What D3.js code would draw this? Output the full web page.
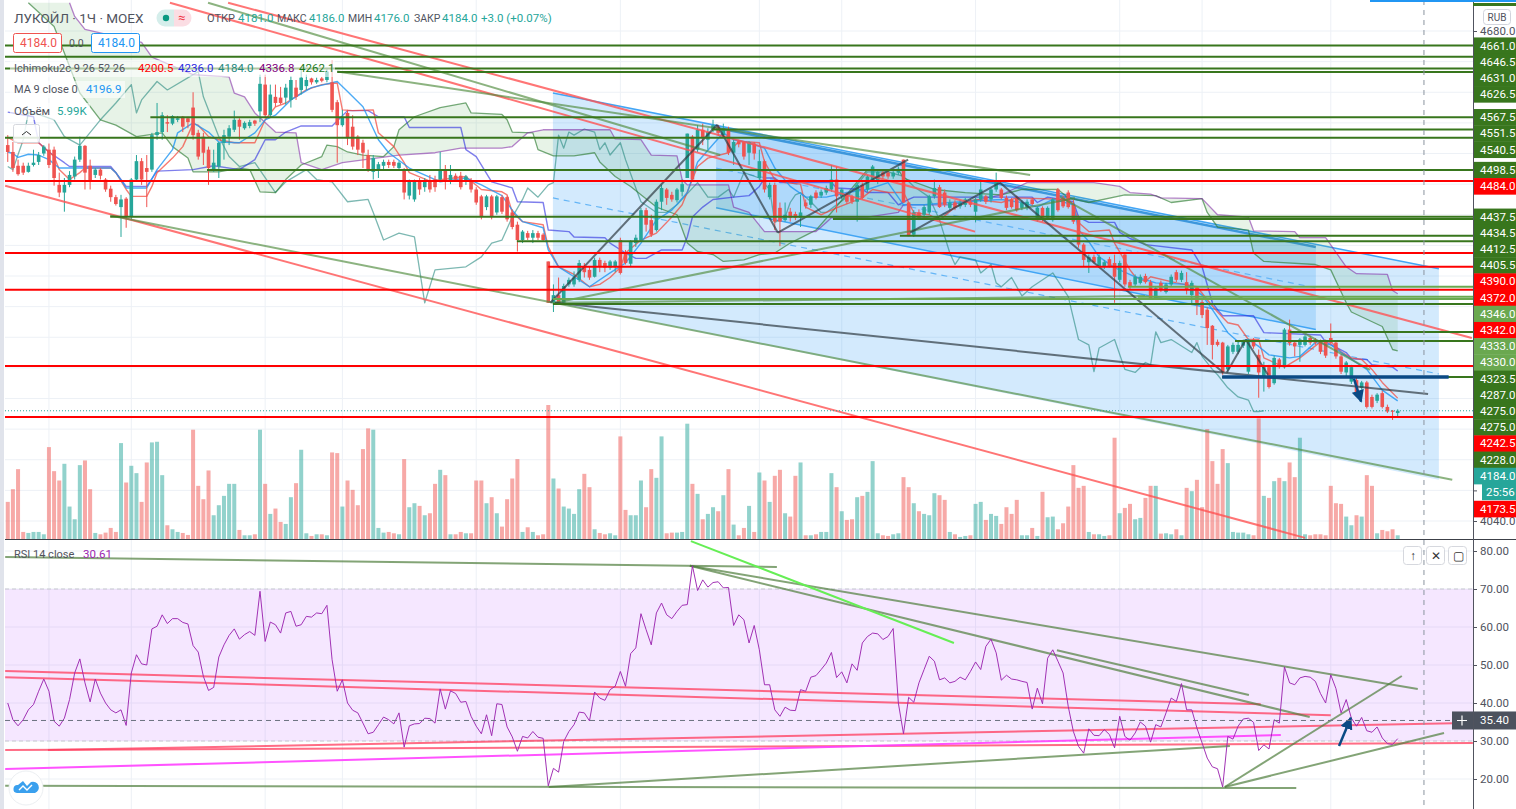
<!DOCTYPE html>
<html>
<head>
<meta charset="utf-8">
<script src="https://cdn.jsdelivr.net/npm/d3@7"></script>
<style>
html, body { margin: 0; padding: 0; background: #fff; overflow: hidden; }
text { font-family: "Roboto", "Liberation Sans", sans-serif; }
</style>
</head>
<body>
<div id="chart"></div>
<script>
// candles, hourly bars
var open = [4531,4522,4504,4504,4496,4505,4509,4520,4525,4525,
4479,4469,4479,4490,4512,4530,4504,4492,4499,4486,
4474,4463,4450,4461,4437,4486,4510,4501,4499,4544,
4548,4561,4559,4564,4568,4566,4580,4547,4542,4525,
4499,4503,4534,4542,4551,4564,4553,4556,4563,4575,
4610,4570,4594,4593,4593,4590,4606,4603,4608,4618,
4613,4618,4616,4613,4587,4557,4573,4555,4542,4534,
4518,4496,4499,4504,4509,4509,4501,4499,4465,4460,
4484,4476,4484,4486,4486,4499,4483,4491,4491,4483,
4483,4473,4464,4450,4464,4443,4463,4463,4443,4427,
4407,4416,4410,4416,4414,4379,4325,4335,4325,4349,
4349,4355,4373,4368,4359,4381,4377,4371,4372,4407,
4390,4376,4403,4407,4446,4433,4420,4457,4473,4466,
4459,4470,4488,4542,4525,4551,4538,4551,4555,4544,
4552,4521,4536,4535,4521,4533,4488,4510,4463,4479,
4449,4433,4444,4441,4436,4456,4453,4469,4465,4469,
4473,4486,4464,4466,4464,4457,4479,4473,4486,4483,
4495,4495,4490,4495,4512,4456,4414,4443,4440,4443,
4464,4476,4469,4449,4456,4451,4453,4457,4444,4460,
4464,4460,4473,4473,4462,4460,4462,4449,4449,4460,
4433,4449,4436,4433,4473,4462,4469,4453,4436,4401,
4378,4385,4373,4372,4382,4377,4355,4388,4352,4349,
4351,4360,4352,4331,4351,4339,4349,4365,4355,4352,
4335,4345,4326,4316,4295,4274,4273,4238,4261,4261,
4269,4235,4277,4257,4228,4241,4220,4251,4241,4290,
4273,4270,4270,4279,4277,4274,4274,4279,4273,4255,
4234,4222,4224,4214,4221,4202,4197,4207,4189,4184,4181];
var close = [4522,4501,4493,4495,4504,4508,4518,4529,4505,4488,
4469,4479,4492,4512,4530,4495,4483,4499,4491,4473,
4463,4454,4460,4437,4486,4510,4486,4496,4544,4548,
4570,4559,4569,4566,4555,4561,4544,4516,4521,4501,
4508,4534,4544,4553,4564,4555,4560,4561,4559,4611,
4570,4597,4586,4586,4606,4616,4594,4619,4616,4613,
4616,4615,4627,4577,4557,4568,4540,4529,4525,4521,
4499,4514,4506,4509,4505,4504,4508,4469,4483,4484,
4473,4484,4473,4476,4499,4483,4492,4486,4476,4490,
4473,4456,4437,4464,4437,4464,4444,4434,4424,4407,
4418,4410,4416,4410,4407,4325,4335,4325,4347,4355,
4358,4377,4365,4358,4381,4372,4371,4379,4379,4364,
4377,4405,4410,4446,4427,4414,4457,4475,4462,4460,
4473,4480,4546,4486,4551,4540,4548,4557,4547,4553,
4521,4535,4532,4516,4535,4520,4510,4473,4479,4431,
4431,4440,4436,4436,4443,4451,4464,4462,4470,4475,
4486,4464,4473,4457,4457,4479,4462,4490,4503,4496,
4490,4490,4495,4500,4456,4412,4443,4436,4450,4464,
4475,4450,4453,4456,4449,4456,4460,4453,4460,4473,
4457,4473,4483,4462,4449,4450,4446,4456,4457,4454,
4449,4433,4449,4460,4446,4451,4450,4431,4401,4381,
4385,4378,4385,4378,4373,4359,4377,4349,4346,4359,
4359,4352,4331,4344,4342,4349,4359,4355,4364,4342,
4351,4325,4309,4292,4270,4270,4234,4268,4270,4270,
4274,4277,4268,4234,4241,4215,4253,4241,4290,4272,
4268,4277,4281,4273,4273,4261,4256,4273,4255,4235,
4247,4241,4207,4221,4189,4189,4205,4189,4183,4183,4184];
var high = [4544,4535,4512,4508,4508,4525,4522,4531,4533,4529,
4495,4488,4497,4516,4542,4531,4512,4501,4501,4488,
4478,4466,4466,4463,4488,4518,4514,4518,4547,4586,
4574,4570,4570,4569,4569,4568,4600,4551,4547,4529,
4525,4535,4551,4557,4576,4566,4562,4564,4564,4623,
4623,4610,4610,4607,4611,4621,4616,4629,4623,4619,
4619,4620,4632,4642,4590,4577,4577,4570,4544,4538,
4525,4518,4509,4512,4512,4512,4510,4501,4486,4486,
4488,4488,4492,4491,4522,4505,4505,4494,4496,4492,
4488,4476,4466,4466,4466,4466,4466,4465,4447,4431,
4420,4419,4420,4419,4416,4379,4349,4358,4350,4358,
4366,4381,4377,4373,4384,4384,4380,4381,4381,4410,
4394,4407,4414,4449,4449,4440,4460,4479,4475,4470,
4475,4486,4546,4544,4557,4559,4553,4564,4557,4559,
4555,4538,4538,4536,4536,4535,4525,4512,4482,4482,
4456,4456,4449,4444,4466,4460,4466,4472,4473,4478,
4505,4503,4475,4469,4466,4482,4482,4492,4505,4499,
4497,4497,4497,4503,4512,4456,4446,4447,4453,4466,
4486,4479,4473,4460,4459,4459,4462,4460,4462,4483,
4466,4475,4495,4475,4465,4462,4465,4459,4460,4462,
4451,4451,4451,4462,4475,4465,4472,4460,4439,4403,
4388,4388,4388,4381,4385,4388,4380,4390,4355,4362,
4362,4363,4355,4347,4354,4351,4362,4368,4367,4365,
4354,4347,4329,4319,4296,4277,4274,4270,4273,4274,
4277,4278,4279,4264,4248,4244,4256,4253,4292,4303,
4275,4279,4283,4282,4279,4277,4277,4298,4275,4257,
4249,4244,4227,4223,4223,4205,4207,4210,4192,4185,4186];
var low = [4509,4496,4491,4492,4495,4503,4505,4517,4501,4478,
4463,4444,4476,4486,4509,4473,4473,4488,4486,4470,
4457,4452,4411,4423,4433,4483,4479,4450,4496,4538,
4538,4548,4557,4561,4548,4553,4538,4512,4505,4479,
4496,4488,4512,4531,4548,4538,4551,4553,4556,4561,
4566,4567,4581,4584,4584,4580,4590,4597,4603,4610,
4611,4613,4613,4574,4508,4555,4531,4525,4518,4501,
4496,4486,4488,4499,4501,4501,4499,4460,4460,4457,
4466,4470,4469,4470,4483,4473,4480,4483,4473,4479,
4469,4453,4434,4446,4434,4440,4441,4431,4421,4392,
4403,4407,4403,4407,4406,4325,4313,4325,4324,4346,
4346,4352,4358,4355,4358,4365,4365,4368,4365,4362,
4375,4372,4398,4405,4418,4411,4418,4446,4453,4457,
4456,4464,4488,4483,4522,4531,4525,4548,4543,4542,
4518,4505,4528,4512,4505,4512,4483,4469,4460,4420,
4399,4431,4431,4433,4424,4448,4449,4460,4462,4466,
4470,4443,4460,4454,4454,4431,4460,4470,4483,4480,
4487,4487,4487,4492,4456,4412,4411,4433,4436,4440,
4461,4449,4450,4446,4446,4448,4450,4450,4430,4457,
4454,4456,4470,4460,4446,4448,4444,4446,4446,4452,
4431,4431,4433,4431,4444,4449,4448,4428,4397,4372,
4364,4376,4371,4369,4371,4325,4352,4346,4343,4346,
4349,4350,4329,4329,4339,4337,4346,4352,4352,4336,
4322,4309,4305,4270,4251,4268,4231,4235,4258,4258,
4266,4232,4265,4201,4209,4213,4218,4239,4239,4269,
4255,4248,4268,4270,4270,4258,4253,4270,4252,4232,
4227,4219,4205,4211,4187,4187,4194,4187,4181,4172,4176];
var volume = [56,75,105,11,9.5,11,11,7.5,138,102,88,113,49,30,111,118,75,9.5,7.5,10,17,11,144,85,110,99,56,115,145,146,96,21,15,11,9.5,6.5,164,80,60,103,36,51,65,83,83,14,6,
6,7.5,164,83,38,46,26,23,63,84,134,9,5,7.5,7.5,6,130,129,49,88,74,51,135,166,164,17,10,11,9,7.5,120,48,54,50,36,39,83,104,96,7.5,7.5,11,9,9,88,88,54,63,39,19,60,91,120,11,18,11,6,7.5,201,91,76,49,46,38,75,98,78,15,9.5,7.5,9,6,154,44,36,36,88,48,105,92,154,9,10,
10,11,173,83,68,30,38,48,42,66,105,22,6,17,50,11,100,88,56,95,104,39,34,95,115,6,6,7.5,11,11,99,78,42,29,30,63,65,71,117,9,6,5,7.5,9,93,78,54,42,38,36,69,66,59,11,7.5,3.5,5,6,53,56,29,38,35,23,48,38,59,6,6,
17,5,71,33,34,15,24,49,111,77,80,11,7.5,7.5,5,6,152,39,47,53,30,32,62,80,80,8.5,9,7.5,15,6,77,72,89,48,165,117,83,135,114,11,10,10,7.5,6,181,65,62,87,92,87,115,93,152,7.5,6,7.5,7.5,6,80,54,53,34,21,36,34,96,80,9,14,12,15,5.99];
var rsi = [40.0,35.6,34.0,35.6,38.2,39.6,43.1,46.3,43.1,35.2,
33.9,36.0,40.9,47.9,51.6,45.3,40.3,46.3,42.6,40.0,
38.2,37.4,38.2,34.1,47.9,52.7,50.3,50.0,59.5,60.2,
63.2,60.9,62.2,62.2,61.2,60.8,55.1,53.4,47.0,43.3,
44.1,52.1,55.3,57.8,59.5,56.8,58.0,58.8,57.8,
69.4,56.2,61.3,60.6,58.4,63.7,64.1,60.2,60.6,62.8,
62.6,63.7,63.5,65.7,51.4,43.1,46.1,40.0,38.1,37.4,
34.7,31.9,32.3,34.3,36.3,35.6,34.5,37.4,28.4,34.0,
34.5,34.6,36.0,35.9,34.7,43.7,38.4,43.2,42.5,40.2,
40.4,36.5,33.9,31.9,36.9,31.4,39.8,39.6,33.7,31.1,
27.3,31.2,30.8,32.5,31.0,30.7,18.2,22.8,21.8,29.9,
32.5,34.3,37.6,37.4,35.3,42.9,41.3,40.7,43.5,44.4,
48.3,44.4,53.0,54.5,63.5,59.3,55.3,63.7,66.3,63.2,
62.2,64.1,65.7,65.9,76.1,69.6,72.4,70.5,71.7,71.9,
70.3,70.4,60.4,63.2,61.9,55.8,60.4,54.0,
44.8,44.8,38.2,36.5,38.9,38.1,38.0,43.5,43.1,46.8,47.2,48.8,50.5,53.3,46.7,48.2,45.3,50.3,48.6,55.8,57.5,58.4,58.2,56.7,57.5,59.6,40.0,31.9,41.5,40.2,45.3,48.8,52.3,51.0,46.1,46.6,45.3,45.7,46.8,46.1,48.3,50.8,48.8,54.9,56.8,53.2,46.0,47.3,46.3,46.1,45.7,45.4,38.4,43.9,39.8,51.8,54.0,51.0,47.9,39.1,32.5,28.6,26.8,33.2,31.5,31.4,33.0,31.7,28.2,36.5,31.2,30.2,32.1,35.0,33.9,29.7,34.3,33.7,37.4,41.3,40.4,45.1,38.2,38.2,33.4,29.5,25.5,23.2,22.7,17.9,31.2,30.5,33.9,35.8,36.0,34.9,27.5,29.0,27.9,35.6,34.7,49.5,45.3,44.8,46.6,47.0,46.8,45.7,42.5,40.0,47.4,43.8,37.4,40.9,36.0,33.9,36.2,32.7,32.3,33.7,30.8,29.3,29.1,30.61];

// indicator lines as [bar, value]
var kijun = [[0,4574],[5,4568],[6,4534],[8,4522],[11,4508],[12,4503],[20,4503],[21,4495],[23,4477],[27,4477],[29,4497],[36,4499],[40,4504],[45,4499],[48,4512],[50,4538],[52,4538],[54,4548],[57,4556],[63,4556],[66,4576],[70,4576],[72,4568],[77,4568],[78,4554],[88,4554],[89,4525],[91,4516],[94,4483],[96,4479],[98,4475],[99,4457],[104,4456],[105,4420],[109,4418],[110,4411],[116,4410],[117,4403],[120,4390],[122,4383],[124,4383],[127,4394],[131,4394],[132,4411],[133,4437],[135,4450],[137,4460],[141,4463],[144,4465],[146,4477],[147,4488],[149,4488],[150,4482],[160,4482],[161,4475],[166,4473],[167,4469],[171,4469],[173,4453],[175,4460],[176,4463],[199,4463],[200,4456],[202,4463],[207,4457],[208,4437],[210,4430],[215,4430],[216,4417],[218,4409],[221,4401],[230,4394],[232,4372],[234,4325],[235,4316],[236,4308],[242,4308],[244,4286],[255,4283],[256,4274],[260,4260],[261,4252],[264,4251],[265,4244],[269,4241],[270,4236]];
var tenkan = [[0,4541],[2,4534],[6,4534],[7,4528],[9,4516],[10,4499],[12,4486],[14,4495],[15,4501],[20,4501],[21,4495],[23,4473],[24,4464],[27,4464],[28,4477],[29,4495],[32,4514],[34,4529],[36,4559],[37,4557],[39,4542],[41,4538],[44,4534],[48,4534],[50,4564],[52,4581],[54,4586],[58,4603],[61,4610],[64,4612],[65,4577],[67,4576],[71,4577],[72,4547],[75,4529],[77,4508],[78,4495],[82,4484],[89,4490],[90,4484],[92,4473],[96,4470],[97,4466],[98,4443],[100,4431],[104,4427],[105,4398],[107,4372],[110,4362],[113,4346],[115,4349],[117,4358],[119,4371],[120,4390],[123,4407],[126,4416],[129,4437],[131,4453],[134,4503],[136,4514],[140,4521],[142,4536],[146,4534],[147,4509],[149,4486],[151,4482],[154,4480],[155,4450],[158,4440],[161,4449],[166,4462],[168,4473],[171,4469],[174,4469],[176,4443],[179,4440],[181,4433],[184,4450],[188,4460],[193,4456],[196,4462],[206,4460],[207,4453],[208,4430],[210,4418],[214,4420],[215,4403],[218,4368],[219,4359],[221,4353],[222,4359],[227,4351],[231,4346],[233,4329],[235,4313],[237,4299],[239,4296],[241,4277],[243,4277],[244,4253],[248,4241],[251,4253],[255,4274],[257,4274],[259,4261],[261,4253],[263,4251],[265,4238],[267,4221],[270,4200.5]];
var ma9 = [[0,4522],[1,4520],[2,4515],[4,4519],[6,4518],[8,4512],[10,4501],[20,4501],[21,4495],[23,4475],[27,4475],[29,4499],[32,4525],[33,4547],[36,4560],[39,4548],[41,4535],[45,4534],[48,4547],[50,4564],[52,4570],[55,4590],[59,4606],[64,4614],[66,4601],[69,4581],[72,4538],[74,4521],[78,4501],[84,4483],[89,4488],[92,4479],[96,4465],[98,4446],[100,4431],[104,4423],[105,4394],[107,4372],[110,4359],[113,4346],[117,4364],[120,4377],[123,4403],[126,4433],[129,4446],[132,4469],[134,4509],[139,4547],[141,4538],[144,4534],[147,4527],[149,4501],[152,4477],[155,4463],[159,4463],[163,4469],[167,4473],[171,4482],[174,4453],[178,4453],[183,4456],[193,4460],[197,4456],[200,4450],[203,4460],[207,4453],[208,4420],[210,4405],[212,4385],[215,4371],[219,4359],[223,4351],[229,4349],[232,4335],[234,4316],[237,4286],[239,4274],[241,4277],[243,4268],[245,4257],[249,4253],[251,4255],[254,4273],[257,4270],[261,4251],[264,4238],[267,4211],[270,4196.9]];
var lagging = [[0,4503],[1,4499],[3,4538],[4,4573],[6,4571],[9,4564],[11,4542],[14,4531],[18,4564],[21,4586],[24,4610],[25,4573],[26,4590],[29,4614],[31,4603],[37,4627],[38,4594],[41,4542],[43,4516],[45,4503],[48,4508],[52,4469],[54,4483],[58,4499],[60,4486],[63,4483],[66,4457],[70,4460],[71,4443],[73,4407],[76,4416],[79,4411],[80,4368],[81,4325],[83,4368],[89,4372],[92,4385],[94,4403],[96,4407],[98,4437],[100,4460],[101,4475],[103,4463],[105,4479],[106,4482],[107,4544],[108,4527],[109,4548],[110,4544],[112,4552],[114,4548],[115,4525],[116,4534],[117,4518],[119,4534],[120,4512],[122,4475],[123,4457],[126,4443],[128,4443],[130,4453],[134,4482],[136,4463],[138,4463],[140,4473],[141,4463],[143,4495],[146,4488],[148,4473],[149,4430],[151,4437],[152,4456],[153,4466],[154,4469],[156,4457],[158,4443],[159,4443],[163,4463],[167,4496],[171,4496],[174,4490],[176,4477],[179,4463],[181,4433],[183,4390],[184,4375],[185,4385],[188,4381],[189,4364],[191,4375],[192,4351],[193,4346],[195,4358],[197,4334],[199,4346],[203,4364],[206,4333],[208,4277],[210,4270],[211,4235],[212,4266],[215,4277],[217,4238],[219,4234],[221,4247],[222,4244],[223,4287],[224,4273],[226,4277],[230,4260],[231,4273],[232,4255],[234,4238],[235,4231],[237,4214],[239,4202],[241,4198],[242,4183],[243,4183],[244,4184]];
var spanA = [[4,4717],[9,4686],[14,4599],[18,4564],[21,4557],[25,4542],[30,4547],[32,4529],[35,4514],[36,4496],[41,4496],[45,4501],[47,4499],[49,4470],[52,4469],[54,4486],[57,4505],[61,4516],[62,4531],[64,4529],[66,4522],[69,4518],[73,4516],[75,4529],[76,4551],[79,4568],[84,4580],[89,4586],[90,4573],[96,4571],[97,4564],[98,4548],[102,4547],[103,4525],[106,4517],[110,4517],[114,4521],[115,4509],[118,4490],[121,4477],[123,4466],[126,4450],[130,4440],[132,4403],[134,4392],[137,4388],[139,4379],[143,4381],[146,4388],[149,4390],[152,4403],[157,4420],[160,4443],[167,4499],[173,4499],[174,4488],[180,4473],[186,4469],[193,4466],[197,4473],[204,4473],[206,4462],[210,4456],[217,4466],[223,4465],[226,4456],[232,4461],[233,4443],[235,4424],[241,4420],[242,4390],[244,4379],[254,4375],[257,4368],[260,4325],[261,4313],[267,4294],[269,4264],[270,4262.1]];
var spanB = [[12,4717],[13,4699],[15,4682],[26,4665],[28,4646],[36,4623],[43,4620],[44,4599],[46,4594],[48,4573],[52,4548],[56,4547],[57,4508],[61,4499],[65,4508],[76,4518],[83,4521],[88,4527],[96,4527],[98,4529],[101,4547],[104,4551],[117,4551],[118,4539],[123,4538],[125,4518],[130,4517],[131,4486],[132,4479],[140,4479],[141,4450],[144,4443],[147,4418],[157,4418],[159,4430],[160,4436],[167,4437],[173,4443],[174,4453],[183,4453],[189,4460],[193,4466],[198,4482],[211,4482],[216,4477],[218,4469],[222,4467],[224,4462],[232,4461],[235,4440],[241,4437],[242,4419],[250,4418],[251,4410],[256,4410],[260,4372],[262,4363],[268,4362],[269,4341],[270,4336.8]];

// drawn levels on the price pane: price, first bar
var greenLevels = [[4661,-2],[4646.5,-2],[4631,-2],[4626.5,64],[4567.5,27.7],[4551.5,136.8],[4540.5,-2],[4498.5,38.7],[4437.5,19.9],[4434.5,160.3],[4412.5,173.3],[4405.5,98.9],[4323.5,105.9],[4287,249],[4275,238.4],[4228,235.9]];
var lightLevels = [[4346,217.6],[4333,219.5],[4330,105.9]];
var redLevels = [[4484,-2],[4390,-2],[4372,105],[4342,-2],[4242.5,-2],[4176,-2]];

// trend lines: bar1, value1, bar2, value2
var redTrends = [[-0.5,4478,252,4018],[31.5,4717,187.9,4418],[42.8,4717,284.4,4279]];
var greenTrends = [[19.9,4439,280.6,4094],[38.9,4717,138.4,4518],[64,4627,198.6,4492],[204.4,4463.5,264.6,4237.5],[106.3,4325,207.3,4462],[106.3,4325,220.9,4334]];
var darkTrends = [[105.4,4325,137.8,4557.5],[137.8,4557.5,149.6,4416.5],[149.6,4416.5,174.9,4512],[175.3,4416.5,192.7,4482],[192.7,4482,236.1,4234],[236.8,4234,240.5,4277],[240.5,4277,244.8,4231],[106.3,4325,275.9,4206]];
var channelBig = [[105.9,4599],[278,4369.5],[278,4094],[105.9,4325]];
var channelBigMid = [105.9,4462,278,4232];
var channelDark = [[137.6,4553.6],[254.1,4398],[254.1,4290],[137.6,4449]];
var channelDarkMid = [137.6,4501,254.1,4344.6];
var navyLevel = [235.9,4228,279.9,4228];
var navyArrow = [261.5,4226,262.9,4196];

var rsiRed = [[-0.5,48.4,243.4,39.7],[-0.5,46.8,257,36.8],[7.8,27.6,280.9,34.7],[-0.5,27.6,284.6,29.5]];
var rsiMagenta = [[-0.5,22.6,247.3,31.6]];
var rsiGreen = [[-0.5,18.2,250.3,17.6],[105.1,17.9,237.4,28.7],[-0.5,78.4,149.4,75.8],[132.5,76.1,273.9,43.7],[132.5,76.1,252.9,36.3],[203.8,53.9,241.1,42.1],[236.4,17.9,270.8,47.1],[236.4,17.9,279,32.1]];
var rsiBright = [[132.7,82.6,183.8,55.8]];
var rsiArrow = [258.6,28.7,260.9,36.1];

var timeGrid = [8,24,50,65,91,119,146,162,188,216,232,257];
var crosshairBar = 275.1;
var crosshairRsi = 35.40;
var priceTicks = d3.range(4040, 4681, 40);
var priceTickLabels = [4680, 4040];
var rsiTicks = [20,30,40,50,60,70,80];

// labels on the price scale, top to bottom
var scaleLabels = [4661,4646.5,4631,4626.5,4567.5,4551.5,4540.5,4498.5,4484,4437.5,4434.5,4412.5,4405.5,4390,4372,4346,4342,4333,4330,4323.5,4287,4275,4275,4242.5,4228,4184,4173.5];
var scaleKinds = ["g","g","g","g","g","g","g","g","r","g","g","g","g","r","r","l","r","l","l","g","g","g","g","r","g","t","r"];

var kindColor = { g: "#38761d", r: "#ff0000", l: "#6aa84f", t: "#26a69a" };
var upColor = "#26a69a", downColor = "#ef5350";

var width = 1516, height = 809;
var plotLeft = 5, plotRight = 1473, splitY = 539.5;

var svg = d3.select("#chart")
    .append("svg")
    .attr("width", width)
    .attr("height", height)
    .style("display", "block");

// scales
var x = d3.scaleLinear().domain([0, 270]).range([7.76, 1397.7]);
var y = d3.scaleLinear().domain([4040, 4680]).range([521, 31]);
var yVol = d3.scaleLinear().domain([0, 201]).range([539.3, 405]);
var yRsi = d3.scaleLinear().domain([20, 80]).range([779, 551]);

var defs = svg.append("defs");
defs.append("clipPath").attr("id", "clipMain").append("rect")
    .attr("x", plotLeft).attr("y", 0).attr("width", plotRight - plotLeft).attr("height", splitY);
defs.append("clipPath").attr("id", "clipRsi").append("rect")
    .attr("x", plotLeft).attr("y", splitY).attr("width", plotRight - plotLeft).attr("height", height - splitY);
defs.append("marker").attr("id", "navyHead")
    .attr("viewBox", "0 0 10 10").attr("refX", 9).attr("refY", 5)
    .attr("markerWidth", 5).attr("markerHeight", 5).attr("orient", "auto")
    .append("path").attr("d", "M0,0 L10,5 L0,10 Z").attr("fill", "#0b4a85");

var main = svg.append("g").attr("clip-path", "url(#clipMain)");
var lower = svg.append("g").attr("clip-path", "url(#clipRsi)");

// grid
var gridColor = "#edf1f6";
main.append("g").selectAll("line").data(priceTicks).enter().append("line")
    .attr("x1", plotLeft).attr("x2", plotRight)
    .attr("y1", d => y(d)).attr("y2", d => y(d))
    .attr("stroke", gridColor);
[main, lower].forEach(function (pane) {
    pane.append("g").selectAll("line").data(timeGrid).enter().append("line")
        .attr("x1", d => x(d)).attr("x2", d => x(d))
        .attr("y1", 0).attr("y2", height)
        .attr("stroke", gridColor);
});

// channels
var line = d3.line().x(d => x(d[0])).y(d => y(d[1]));
var poly = d => line(d) + "Z";
main.append("path").attr("d", poly(channelBig)).attr("fill", "rgba(33,150,243,0.2)");
main.append("path").attr("d", poly(channelDark)).attr("fill", "rgba(33,150,243,0.2)");

function segment(group, list, stroke, strokeWidth, scaleY, opacity) {
    return group.append("g").selectAll("line").data(list).enter().append("line")
        .attr("x1", d => x(d[0])).attr("y1", d => scaleY(d[1]))
        .attr("x2", d => x(d[2])).attr("y2", d => scaleY(d[3]))
        .attr("stroke", stroke).attr("stroke-width", strokeWidth)
        .attr("stroke-opacity", opacity === undefined ? 1 : opacity);
}

// channel borders
segment(main, [[channelBig[0][0], channelBig[0][1], channelBig[1][0], channelBig[1][1]],
    [channelDark[3][0], channelDark[3][1], channelDark[2][0], channelDark[2][1]]], "#42a5f5", 1.5, y);
segment(main, [[channelDark[0][0], channelDark[0][1], channelDark[1][0], channelDark[1][1]]], "#3d97dc", 2.5, y);
segment(main, [channelBigMid, channelDarkMid], "#64b5f6", 1.2, y).attr("stroke-dasharray", "6 5");

// volume
main.append("g").selectAll("rect").data(volume).enter().append("rect")
    .attr("x", (d, i) => x(i) - 2)
    .attr("width", 4)
    .attr("y", d => yVol(d))
    .attr("height", d => yVol(0) - yVol(d))
    .attr("fill", (d, i) => close[i] >= open[i] ? upColor : downColor)
    .attr("fill-opacity", 0.5);

// ichimoku cloud
main.append("path")
    .attr("d", poly(spanA.concat(spanB.slice().reverse())))
    .attr("fill", "#43a047").attr("fill-opacity", 0.13);

function path(group, data, stroke, strokeWidth, opacity, lineFn) {
    group.append("path").attr("d", (lineFn || line)(data))
        .attr("fill", "none").attr("stroke", stroke)
        .attr("stroke-width", strokeWidth)
        .attr("stroke-opacity", opacity)
        .attr("stroke-linejoin", "round");
}
path(main, lagging, "#26897f", 1.3, 0.6);
path(main, spanA, "#2e7d32", 1.3, 0.65);
path(main, spanB, "#7b1fa2", 1.3, 0.55);
path(main, kijun, "#2a2ae0", 1.4, 0.6);
path(main, tenkan, "#f44336", 1.4, 0.7);
path(main, ma9, "#2196f3", 1.4, 0.8);

// candles
var bars = d3.range(open.length);
var barColor = i => close[i] >= open[i] ? upColor : downColor;
main.append("g").selectAll("line").data(bars).enter().append("line")
    .attr("x1", i => x(i)).attr("x2", i => x(i))
    .attr("y1", i => y(high[i])).attr("y2", i => y(low[i]))
    .attr("stroke", barColor);
main.append("g").selectAll("rect").data(bars).enter().append("rect")
    .attr("x", i => x(i) - 1.8)
    .attr("width", 3.6)
    .attr("y", i => y(Math.max(open[i], close[i])))
    .attr("height", i => Math.max(1, Math.abs(y(open[i]) - y(close[i]))))
    .attr("fill", barColor);

// drawn trend lines
segment(main, redTrends, "#ff5252", 2, y, 0.8);
segment(main, greenTrends, "#4f8a3c", 2, y, 0.65);
segment(main, darkTrends, "#2f3a42", 2, y, 0.7);

// levels
var toSeg = d => [d[1], d[0], 300, d[0]];
segment(main, greenLevels.map(toSeg), "#38761d", 2, y);
segment(main, lightLevels.map(toSeg), "#6aa84f", 2, y);
segment(main, redLevels.map(toSeg), "#ff0000", 2, y);
segment(main, [navyLevel], "#0b4a85", 3.5, y);
main.append("line")
    .attr("x1", x(navyArrow[0])).attr("y1", y(navyArrow[1]))
    .attr("x2", x(navyArrow[2])).attr("y2", y(navyArrow[3]))
    .attr("stroke", "#0b4a85").attr("stroke-width", 2.5)
    .attr("marker-end", "url(#navyHead)");

// last price dotted line
main.append("line")
    .attr("x1", plotLeft).attr("x2", plotRight)
    .attr("y1", y(4184)).attr("y2", y(4184))
    .attr("stroke", upColor).attr("stroke-dasharray", "1 2");

// rsi pane
lower.append("g").selectAll("line").data(rsiTicks).enter().append("line")
    .attr("x1", plotLeft).attr("x2", plotRight)
    .attr("y1", d => yRsi(d)).attr("y2", d => yRsi(d))
    .attr("stroke", gridColor);
lower.append("rect")
    .attr("x", plotLeft).attr("width", plotRight - plotLeft)
    .attr("y", yRsi(70)).attr("height", yRsi(30) - yRsi(70))
    .attr("fill", "#9915ff").attr("fill-opacity", 0.1);
lower.append("g").selectAll("line").data([70, 30]).enter().append("line")
    .attr("x1", plotLeft).attr("x2", plotRight)
    .attr("y1", d => yRsi(d)).attr("y2", d => yRsi(d))
    .attr("stroke", "#c8c8d0").attr("stroke-dasharray", "4 3");

segment(lower, rsiRed, "#ff3b5c", 2, yRsi, 0.75);
segment(lower, rsiMagenta, "#ff40ff", 2, yRsi, 0.9);
segment(lower, rsiGreen, "#4f7d3c", 2, yRsi, 0.7);
segment(lower, rsiBright, "#66ee55", 2, yRsi, 1);

path(lower, rsi, "#9c27b0", 1, 0.95, d3.line().x((d, i) => x(i)).y(d => yRsi(d)));

lower.append("line")
    .attr("x1", x(rsiArrow[0])).attr("y1", yRsi(rsiArrow[1]))
    .attr("x2", x(rsiArrow[2])).attr("y2", yRsi(rsiArrow[3]))
    .attr("stroke", "#0b4a85").attr("stroke-width", 2.5)
    .attr("marker-end", "url(#navyHead)");

// crosshair
svg.append("line")
    .attr("x1", x(crosshairBar)).attr("x2", x(crosshairBar))
    .attr("y1", 0).attr("y2", height)
    .attr("stroke", "#8a939f").attr("stroke-dasharray", "5 5");
svg.append("line")
    .attr("x1", plotLeft).attr("x2", plotRight)
    .attr("y1", yRsi(crosshairRsi)).attr("y2", yRsi(crosshairRsi))
    .attr("stroke", "#6b7280").attr("stroke-dasharray", "5 4");

// frame
svg.append("rect").attr("x", 0).attr("y", 0).attr("width", 4).attr("height", height).attr("fill", "#e0e3eb");
svg.append("rect").attr("x", plotRight).attr("y", 0).attr("width", width - plotRight).attr("height", height).attr("fill", "#fff");
svg.append("line").attr("x1", plotLeft).attr("x2", width).attr("y1", splitY).attr("y2", splitY).attr("stroke", "#3c4048").attr("stroke-width", 1.2);
svg.append("line").attr("x1", plotRight + 0.5).attr("x2", plotRight + 0.5).attr("y1", 0).attr("y2", height).attr("stroke", "#50535e");
svg.append("rect").attr("x", 1370).attr("y", 0).attr("width", 146).attr("height", 2).attr("fill", "#2196f3");
svg.append("rect").attr("x", plotRight).attr("y", 3).attr("width", width - plotRight).attr("height", 3).attr("fill", "#38761d");

// axes
var axisFont = "11.5px";
var priceAxis = svg.append("g")
    .attr("transform", "translate(" + plotRight + ",0)")
    .call(d3.axisRight(y).tickValues(priceTicks)
        .tickFormat(d => priceTickLabels.indexOf(d) >= 0 ? d3.format(".1f")(d) : "")
        .tickSize(4).tickPadding(3));
var rsiAxis = svg.append("g")
    .attr("transform", "translate(" + plotRight + ",0)")
    .call(d3.axisRight(yRsi).tickValues(rsiTicks).tickFormat(d3.format(".2f")).tickSize(4).tickPadding(3));
[priceAxis, rsiAxis].forEach(function (a) {
    a.select(".domain").remove();
    a.selectAll("line").attr("stroke", "#50535e");
    a.selectAll("text").attr("fill", "#50535e").style("font-size", axisFont).style("font-family", "Roboto");
});

// price scale labels, pushed down when they would overlap
var labelStep = 16.2, lastY = -100;
var labelY = scaleLabels.map(function (v, i) {
    var pos = Math.max(y(v), lastY + labelStep);
    if (scaleKinds[i - 1] === "t") pos = lastY + 2 * labelStep + 0.6;
    lastY = pos;
    return pos;
});
var labels = svg.append("g");
labels.selectAll("rect").data(scaleLabels).enter().append("rect")
    .attr("x", plotRight + 1).attr("width", width - plotRight)
    .attr("y", (d, i) => labelY[i] - labelStep / 2).attr("height", labelStep + 0.4)
    .attr("fill", (d, i) => kindColor[scaleKinds[i]]);
labels.selectAll("text").data(scaleLabels).enter().append("text")
    .attr("x", 1480).attr("y", (d, i) => labelY[i] + 4)
    .attr("fill", "#fff").style("font-size", axisFont)
    .text(d => d.toFixed(1));

// countdown below the last price
var lastIdx = scaleKinds.indexOf("t");
labels.append("rect").attr("x", 1482).attr("y", labelY[lastIdx] + labelStep / 2)
    .attr("width", 34).attr("height", labelStep).attr("fill", upColor);
labels.append("text").attr("x", 1486).attr("y", labelY[lastIdx] + labelStep + 4)
    .attr("fill", "#fff").style("font-size", axisFont).text("25:56");

// rsi crosshair label
svg.append("rect").attr("x", plotRight + 1).attr("y", yRsi(crosshairRsi) - 9).attr("width", 43).attr("height", 18).attr("fill", "#4c525e");
svg.append("text").attr("x", 1480).attr("y", yRsi(crosshairRsi) + 4).attr("fill", "#fff").style("font-size", axisFont).text(crosshairRsi.toFixed(2));
svg.append("rect").attr("x", 1452).attr("y", yRsi(crosshairRsi) - 9).attr("width", 21).attr("height", 18).attr("fill", "#4c525e");
svg.append("path").attr("d", "M1457,720.5h10M1462,715.5v10").attr("stroke", "#fff").attr("stroke-width", 1.2);

// RUB button
svg.append("rect").attr("x", 1483.5).attr("y", 9.5).attr("width", 27).attr("height", 15).attr("rx", 3).attr("fill", "#fff").attr("stroke", "#d1d4dc");
svg.append("text").attr("x", 1497).attr("y", 21).attr("text-anchor", "middle").attr("fill", "#50535e").style("font-size", "10px").text("RUB");

// legend
var grey = "#50535e";
function legendText(tx, ty, str, color, size) {
    return svg.append("text").attr("x", tx).attr("y", ty).attr("fill", color)
        .style("font-size", size || "11.5px").text(str);
}
[[10, 60, 325, 17], [10, 81, 115, 17], [10, 103, 80, 17]].forEach(function (r) {
    svg.append("rect").attr("x", r[0]).attr("y", r[1]).attr("width", r[2]).attr("height", r[3])
        .attr("fill", "#fff").attr("fill-opacity", 0.6);
});
legendText(14, 23, "ЛУКОЙЛ · 1Ч · MOEX", grey, "13.5px");
svg.append("path").attr("d", "M165,9.5h9v17h-9a8.5,8.5 0 0 1 0,-17Z").attr("fill", "#d5eeeb");
svg.append("path").attr("d", "M174,9.5h9a8.5,8.5 0 0 1 0,17h-9Z").attr("fill", "#fbdde3");
svg.append("circle").attr("cx", 166).attr("cy", 18).attr("r", 3.2).attr("fill", "#089981");
legendText(178, 22, "≈", "#f23645", "13px");
legendText(207, 22, "ОТКР", grey, "11px");
legendText(238, 22, "4181.0", upColor);
legendText(277, 22, "МАКС", grey, "10.5px");
legendText(309, 22, "4186.0", upColor);
legendText(348, 22, "МИН", grey, "10.5px");
legendText(374, 22, "4176.0", upColor);
legendText(414, 22, "ЗАКР", grey, "10.5px");
legendText(442, 22, "4184.0", upColor);
legendText(481, 22, "+3.0 (+0.07%)", upColor);

svg.append("rect").attr("x", 13.5).attr("y", 33.5).attr("width", 48).attr("height", 19).attr("rx", 2).attr("fill", "#fff").attr("stroke", "#ef5350");
legendText(20, 47, "4184.0", "#ef5350", "12px");
svg.append("rect").attr("x", 91.5).attr("y", 33.5).attr("width", 48).attr("height", 19).attr("rx", 2).attr("fill", "#fff").attr("stroke", "#2196f3");
legendText(98, 47, "4184.0", "#2196f3", "12px");
legendText(69, 47, "0.0", grey, "10.5px");

legendText(14, 72, "Ichimoku2c 9 26 52 26", grey, "11px");
legendText(138, 72, "4200.5", "#f00");
legendText(178, 72, "4236.0", "#2a2ae0");
legendText(218, 72, "4184.0", "#26897f");
legendText(259, 72, "4336.8", "#800080");
legendText(299, 72, "4262.1", "#1b7a1b");
legendText(14, 93, "MA 9 close 0", grey, "11px");
legendText(86, 93, "4196.9", "#2196f3");
legendText(14, 115, "Объём", grey);
legendText(57, 115, "5.99K", upColor);

svg.append("rect").attr("x", 13.5).attr("y", 124.5).attr("width", 26).attr("height", 18).attr("rx", 2).attr("fill", "#fff").attr("fill-opacity", 0.85).attr("stroke", "#d6d8de");
svg.append("path").attr("d", "M22,135l4.5,-3.5l4.5,3.5").attr("fill", "none").attr("stroke", "#333");

legendText(14, 558, "RSI 14 close", grey, "11px");
legendText(83, 558, "30.61", "#9c27b0");

// pane buttons
[[1413, "↑"], [1436, "✕"], [1458, "▢"]].forEach(function (b) {
    svg.append("rect").attr("x", b[0] - 9.5).attr("y", 546.5).attr("width", 18).attr("height", 18).attr("rx", 3).attr("fill", "#fff").attr("stroke", "#d6d8de");
    svg.append("text").attr("x", b[0]).attr("y", 560).attr("text-anchor", "middle").attr("fill", "#333").style("font-size", "12px").text(b[1]);
});

// logo
svg.append("circle").attr("cx", 26).attr("cy", 788).attr("r", 17).attr("fill", "#fff").attr("stroke", "#eceff2");
svg.append("path").attr("d", "M17,793 a4,4 0 0 1 1,-8 l5,-4 l4,5 l4,-4 a5,5 0 0 1 4,11 Z").attr("fill", "#3aa0ee");
svg.append("path").attr("d", "M19,790 l4,-4 l4,4 l5,-5").attr("fill", "none").attr("stroke", "#fff").attr("stroke-width", 1.4);
</script>
</body>
</html>
